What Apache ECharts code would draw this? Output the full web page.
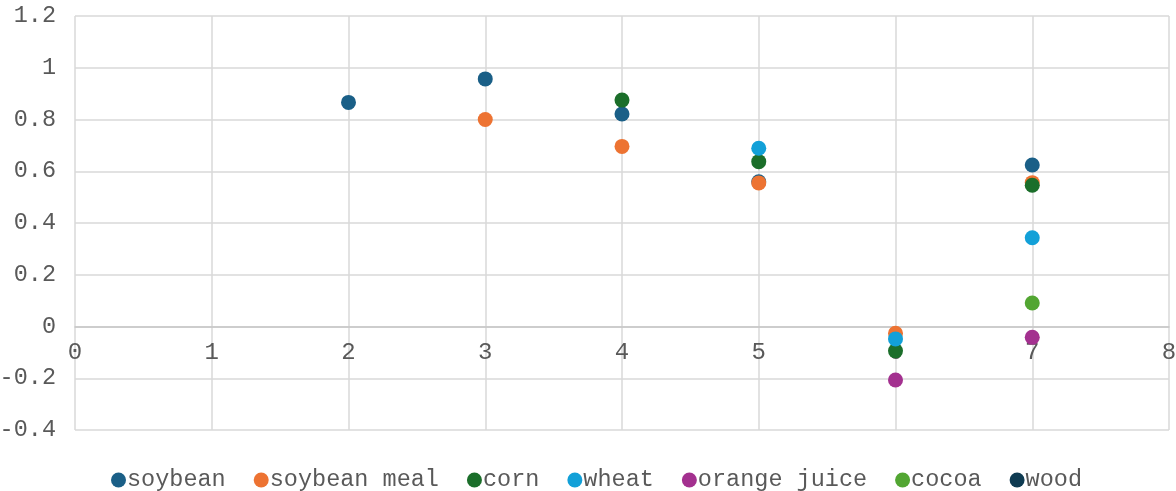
<!DOCTYPE html>
<html>
<head>
<meta charset="utf-8">
<script src="https://cdn.jsdelivr.net/npm/echarts@6/dist/echarts.min.js"></script>
<style>
  html, body { margin: 0; padding: 0; background: #fff; }
  #chart { width: 1176px; height: 491px; }
</style>
</head>
<body>
<div id="chart"></div>
<script>
// series values as [x, y] pairs
const seriesNames = ['soybean', 'soybean meal', 'corn', 'wheat', 'orange juice', 'cocoa', 'wood']
const seriesColors = ['#1a5f87', '#ed7332', '#1b6e2a', '#12a0d8', '#a3308f', '#52a632', '#0f3b52']

const soybean = [[2, 0.866], [3, 0.957], [4, 0.821], [5, 0.559], [7, 0.624]]
const soybeanMeal = [[3, 0.800], [4, 0.696], [5, 0.555], [6, -0.026], [7, 0.556]]
const corn = [[4, 0.875], [5, 0.637], [6, -0.094], [7, 0.546]]
const wheat = [[5, 0.689], [6, -0.048], [7, 0.343]]
const orangeJuice = [[6, -0.207], [7, -0.042]]
const cocoa = [[7, 0.091]]
const wood = []

const seriesData = [soybean, soybeanMeal, corn, wheat, orangeJuice, cocoa, wood]

const xMin = 0
const xMax = 8
const yMin = -0.4
const yMax = 1.2

const font = 'Liberation Mono'
const textColor = '#595959'
const gridColor = '#d9d9d9'

const chart = echarts.init(document.getElementById('chart'))

const option = {
  animation: false,
  grid: {
    left: 75,
    right: 7,
    top: 16,
    bottom: 61,
    containLabel: false,
    outerBoundsMode: 'none'
  },
  legend: {
    top: 468,
    left: 111,
    padding: 0,
    icon: 'circle',
    itemWidth: 15,
    itemHeight: 15,
    itemGap: 28,
    textStyle: {
      fontFamily: font,
      fontSize: 23.5,
      color: textColor,
      padding: [0, 0, 0, -4]
    },
    data: seriesNames
  },
  xAxis: {
    type: 'value',
    min: xMin,
    max: xMax,
    interval: 1,
    axisLine: {
      onZero: false,
      lineStyle: { color: '#c6c6c6', width: 1.5 }
    },
    axisTick: { show: false },
    axisLabel: {
      fontFamily: font,
      fontSize: 24,
      color: textColor,
      margin: 14
    },
    splitLine: {
      show: true,
      lineStyle: { color: gridColor, width: 1.5 }
    }
  },
  yAxis: {
    type: 'value',
    min: yMin,
    max: yMax,
    interval: 0.2,
    axisLine: { show: false },
    axisTick: { show: false },
    axisLabel: {
      fontFamily: font,
      fontSize: 23.5,
      color: textColor,
      margin: 19,
      formatter: (v) => String(Math.round(v * 10) / 10)
    },
    splitLine: {
      show: true,
      lineStyle: { color: gridColor, width: 1.5 }
    }
  },
  series: seriesNames.map((name, i) => ({
    name,
    type: 'scatter',
    symbol: 'circle',
    symbolSize: 15,
    itemStyle: { color: seriesColors[i], opacity: 1 },
    data: seriesData[i]
  }))
}

chart.setOption(option)

// put the x axis (line and labels) on y = 0, like the original
const yZero = chart.convertToPixel({ yAxisIndex: 0 }, 0)
const yBottom = chart.convertToPixel({ yAxisIndex: 0 }, yMin)
chart.setOption({ xAxis: { offset: yZero - yBottom } })
</script>
</body>
</html>
